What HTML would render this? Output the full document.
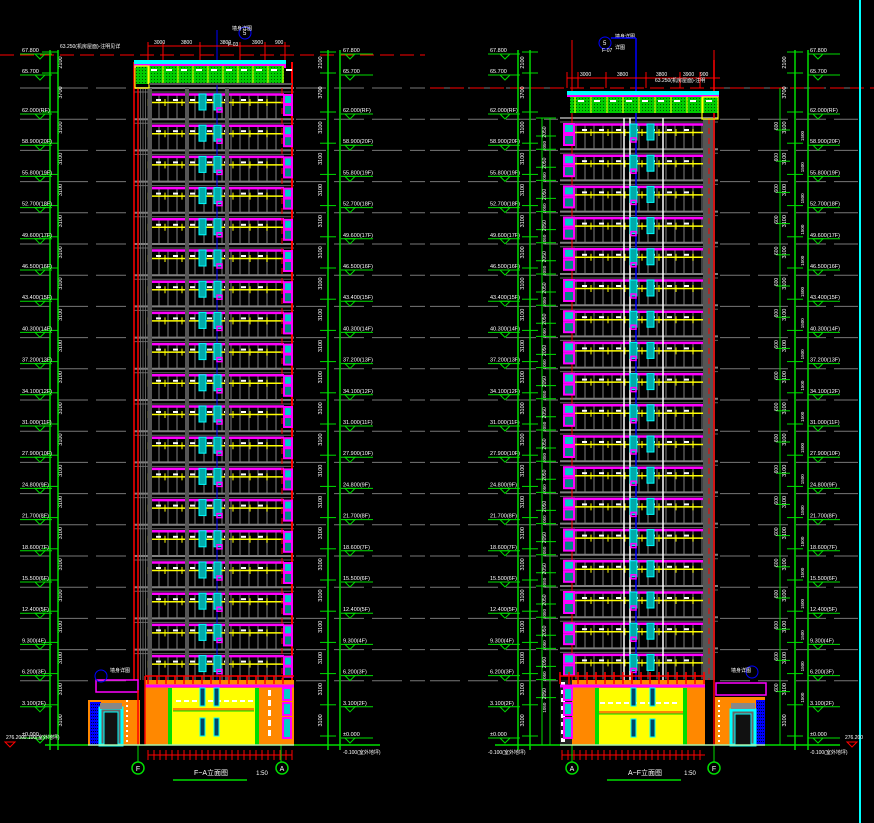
<!DOCTYPE html>
<html><head><meta charset="utf-8"><style>
html,body{margin:0;padding:0;background:#000;width:874px;height:823px;overflow:hidden}
svg{display:block}
text{font-family:"Liberation Sans","Noto Sans CJK SC",sans-serif}
</style></head><body>
<svg id="c" width="874" height="823" viewBox="0 0 874 823" xmlns="http://www.w3.org/2000/svg"></svg>
<script>
let s='';
const L=(x1,y1,x2,y2,c,w=1,d='')=>{s+=`<line x1="${x1}" y1="${y1}" x2="${x2}" y2="${y2}" stroke="${c}" stroke-width="${w}"${d?` stroke-dasharray="${d}"`:''}/>`};
const R=(x,y,w,h,f,st='',sw=1)=>{s+=`<rect x="${x}" y="${y}" width="${w}" height="${h}" fill="${f}"${st?` stroke="${st}" stroke-width="${sw}"`:''}/>`};
const T=(x,y,t,c='#fff',fs=6,rot=0,a='start')=>{s+=`<text x="${x}" y="${y}" fill="${c}" font-size="${fs}" text-anchor="${a}"${rot?` transform="rotate(${rot} ${x} ${y})"`:''}>${t}</text>`};
const C=(x,y,r,c,w=1)=>{s+=`<circle cx="${x}" cy="${y}" r="${r}" fill="none" stroke="${c}" stroke-width="${w}"/>`};
const TRI=(x,y,c)=>{s+=`<polygon points="${x-5},${y} ${x+5},${y} ${x},${y+5}" fill="none" stroke="${c}" stroke-width="1"/>`};
const F=31.2;

// long grey floor lines
for(let k=0;k<=19;k++){let y=88+F*k;L(20,y,132,y,'#777',1,'30 8');L(296,y,425,y,'#777',1,'30 8');L(430,y,558,y,'#777',1,'30 8');L(720,y,858,y,'#777',1,'30 8');}
// red dashed datum lines
L(0,55,425,55,'#f00',1,'14 6');L(430,88,874,88,'#f00',1,'14 6');
// cyan border
L(860,0,860,823,'#0ff',2);

function facade(x0,x1,ytop,n,mir){
 R(x0,ytop,x1-x0,680-ytop,'#000');
 for(let k=0;k<n;k++){
  const y=ytop+F*k;
  L(x0,y,x1,y,'#808080',2);L(x0,y+4,x1,y+4,'#666',1);
  // mullions
  for(let x=x0+16;x<x1-12;x+=9)L(x,y+6,x,y+31,'#555',1.5);
  // magenta
  L(x0+14,y+6.5,x1-10,y+6.5,'#f0f',2.5);
  // yellow
  L(x0+14,y+14.5,x1-10,y+14.5,'#ff0',1.5);
  for(let x=x0+14;x<x1-10;x+=17)L(x,y+11,x,y+18,'#ff0',1);
  for(let x=x0+22;x<x1-20;x+=17)R(x,y+11,5,2,'#fff');
 }
}
// LEFT BUILDING
facade(134,294,88,19,0);
for(let x=138;x<150;x+=2.5)L(x,88,x,680,'#777',0.8);
[150,187,227].forEach(x=>L(x,88,x,680,'#555',4));
L(138,88,138,680,'#f00',1.5);L(292,62,292,745,'#f00',2);L(282,88,282,680,'#f00',1,'6 4');L(134,62,134,680,'#f00',1.5);
L(217,30,217,680,'#00f',1);
for(let k=0;k<19;k++){const y=88+F*k;
 R(199,y+6,7,16,'#0aa','#0ff',1);R(214,y+6,7,16,'#0aa','#0ff',1);R(217,y+20,5,4,'none','#f0f',1.5);
 R(284,y+7,8,9,'#0cc','#f0f',2);R(284,y+17,8,10,'#088','#f0f',2);}
// roof left
R(134,60,152,4,'#0ff');R(134,64,152,4,'#f0f');
R(136,66,148,18,'#0c0');for(let x=136;x<284;x+=3)for(let y=67;y<84;y+=3)R(x,y,1,1,'#050');
for(let x=148;x<284;x+=15){L(x,66,x,84,'#ff0',1);R(x+3,69,6,2,'#fff');}
R(135,66,14,22,'none','#ff0',1.2);L(149,84,292,84,'#555',2);
// top dims left
L(148,46,290,46,'#f00',1);[148,163,200,240,265,285].forEach(x=>{L(x,42,x,60,'#f00',1);});
[['3000',154],['3800',181],['3800',220],['3900',252],['900',275]].forEach(a=>T(a[1],44,a[0],'#fff',5));
C(245,33,6,'#00f');T(243,35,'5','#fff',6);T(232,30,'墙身详图','#fff',5);T(228,46,'F-03','#fff',5);
T(60,48,'63.250(机房屋面)-注明见详','#fff',5);
// podium left
R(145,680,149,65,'#f80');R(145,680,149,6,'#f80');L(145,686,294,686,'#f0f',3);
for(let x=148;x<290;x+=9)L(x,676,x,684,'#f00',1.5);L(145,676,294,676,'#f00',1.5);
R(168,688,4,57,'#0d0');R(255,688,4,57,'#0d0');R(172,688,83,57,'#ff0');
R(173,708,81,3,'#f80');L(173,711,254,711,'#0d0',1);
for(let x=176;x<252;x+=8)R(x,700,5,2,'#fff');
[[200,688],[214,688],[200,718],[214,718]].forEach(p=>R(p[0],p[1],5,18,'#046','#0ff',1));
for(let y=690;y<740;y+=10)R(268,y,3,6,'#fff');
R(283,688,8,12,'#0cc','#f0f',2);R(283,703,8,12,'#0cc','#f0f',2);R(283,718,8,20,'#0cc','#f0f',2);
L(145,676,145,745,'#f00',1.5);
// left annex
R(96,680,42,12,'none','#f0f',1.5);R(88,700,52,45,'#f80');R(90,702,11,43,'#00f');
for(let x=91;x<100;x+=2)for(let y=704;y<744;y+=3)R(x,y,1,1,'#003');
R(100,708,22,37,'#666','#0ff',3);R(104,712,14,33,'#111','#0ff',1);R(100,703,22,6,'#888');
for(let y=700;y<745;y+=5)R(126,y,2,2,'#fff');L(138,690,138,745,'#f00',1.5);C(101,676,6,'#00f');T(110,672,'墙身详图','#fff',5);
// base dims left
L(148,755,292,755,'#f00',1);for(let x=148;x<=292;x+=6)L(x,750,x,760,'#f00',1);
L(138,745,138,762,'#0d0',1);L(281,745,281,762,'#0d0',1);
C(138,768,6,'#0d0',1.5);T(138,771,'F','#fff',7,0,'middle');C(282,768,6,'#0d0',1.5);T(282,771,'A','#fff',7,0,'middle');
T(211,775,'F~A立面图','#fff',7,0,'middle');L(173,780,247,780,'#0d0',1.5);T(262,775,'1:50','#fff',6,0,'middle');

// RIGHT BUILDING
facade(560,718,118,18,1);
R(703,118,12,562,'#555');
[['#fff',624],['#fff',630],['#fff',663]].forEach(a=>L(a[1],118,a[1],680,a[0],1.5));
L(636,38,636,680,'#00f',1.5);
L(572,60,572,680,'#f00',1);L(714,60,714,745,'#f00',1.5);L(709,118,709,680,'#f00',1,'6 4');
for(let k=0;k<18;k++){const y=118+F*k;
 R(564,y+6,10,9,'#0cc','#f0f',2);R(564,y+17,10,10,'#088','#f0f',2);
 R(630,y+6,7,16,'#0aa','#0ff',1);R(647,y+6,7,16,'#0aa','#0ff',1);R(631,y+20,5,4,'none','#f0f',1.5);}
R(567,91,152,5,'#0ff');R(567,95,152,2,'#f0f');
R(570,97,148,16,'#0c0');for(let x=570;x<718;x+=3)for(let y=98;y<113;y+=3)R(x,y,1,1,'#050');
for(let x=575;x<718;x+=16){L(x,97,x,113,'#ff0',1);R(x+3,100,6,2,'#fff');}
R(702,97,16,22,'none','#ff0',1.2);
L(567,78,720,78,'#f00',1);[567,578,606,646,680,700,714].forEach(x=>L(x,72,x,88,'#f00',1));
[['3000',580],['3800',617],['3800',656],['3900',683],['900',700]].forEach(a=>T(a[1],76,a[0],'#fff',5));
T(655,82,'63.250(机房屋面)-注明','#fff',5);
C(605,43,6,'#00f');T(603,45,'5','#fff',6);T(615,38,'墙身详图','#fff',5);T(602,52,'F-07','#fff',5);T(615,49,'详图','#fff',5);L(611,38,636,38,'#00f',1.5);
L(572,40,572,70,'#f00',1);L(714,50,714,70,'#f00',1);
// podium right
R(560,680,12,65,'#222');for(let y=682;y<742;y+=8)R(561,y,4,4,'#fff');
R(572,680,133,65,'#f80');L(560,686,705,686,'#f0f',3);L(560,676,705,676,'#f00',1.5);for(let x=560;x<705;x+=9)L(x,672,x,684,'#f00',1.5);
R(595,688,4,57,'#0d0');R(683,688,4,57,'#0d0');R(599,688,84,57,'#ff0');
R(599,711,84,3,'#f80');L(599,714,683,714,'#0d0',1);for(let x=600;x<680;x+=8)R(x,702,5,2,'#fff');
[[631,688],[650,688],[631,719],[650,719]].forEach(p=>R(p[0],p[1],5,18,'#046','#0ff',1));
R(564,688,8,12,'#0cc','#f0f',2);R(564,703,8,12,'#0cc','#f0f',2);R(564,718,8,20,'#0cc','#f0f',2);
// right annex
R(716,683,50,12,'none','#f0f',1.5);R(715,697,50,48,'#f80');R(756,700,9,45,'#00f');
for(let x=757;x<765;x+=2)for(let y=702;y<744;y+=3)R(x,y,1,1,'#003');
R(731,710,24,35,'#666','#0ff',3);R(735,714,16,31,'#111','#0ff',1);R(731,703,24,6,'#888');
for(let y=700;y<745;y+=5)R(718,y,2,2,'#fff');C(752,672,6,'#00f');T(731,672,'墙身详图','#fff',5);
// base dims right
L(562,755,705,755,'#f00',1);for(let x=562;x<=705;x+=6)L(x,750,x,760,'#f00',1);
L(572,745,572,762,'#0d0',1);L(714,745,714,762,'#0d0',1);
C(572,768,6,'#0d0',1.5);T(572,771,'A','#fff',7,0,'middle');C(714,768,6,'#0d0',1.5);T(714,771,'F','#fff',7,0,'middle');
T(645,775,'A~F立面图','#fff',7,0,'middle');L(607,780,681,780,'#0d0',1.5);T(690,775,'1:50','#fff',6,0,'middle');

// ground lines
L(45,745,380,745,'#0d0',1.5);L(495,745,840,745,'#0d0',1.5);L(88,745,294,745,'#fff',1);L(560,745,765,745,'#fff',1);

// level chains
const fl=['±0.000','3.100(2F)','6.200(3F)','9.300(4F)','12.400(5F)','15.500(6F)','18.600(7F)','21.700(8F)','24.800(9F)','27.900(10F)','31.000(11F)','34.100(12F)','37.200(13F)','40.300(14F)','43.400(15F)','46.500(16F)','49.600(17F)','52.700(18F)','55.800(19F)','58.900(20F)','62.000(RF)'];
const lv=[];for(let i=0;i<=20;i++)lv.push([736-F*i,fl[i]]);lv.push([73,'65.700'],[52,'67.800']);
function chain(xv,xt,tx,triX,dimX,ext){
 L(xv,50,xv,750,'#0d0',1.5);
 lv.forEach((l,i)=>{const y=l[0];L(xv-8,y,xv+8,y,'#0d0',1);L(tx-2,y+2,tx+30,y+2,'#0d0',1);T(tx,y,l[1],'#fff',5.5);TRI(triX,y+2,'#0d0');
  if(i<lv.length-1){const y2=lv[i+1][0];T(dimX,(y+y2)/2,i<20?'3100':(i==20?'3700':'2100'),'#fff',5.5,-90,'middle');}});
 if(ext)L(ext,50,ext,750,'#0d0',1.5);
}
chain(50,0,22,40,62,58);
chain(328,0,343,350,322,340);
chain(530,0,490,505,524,518);
chain(795,0,810,818,786,808);
T(22,739,'-0.100(室外地坪)','#fff',5);T(343,754,'-0.100(室外地坪)','#fff',5);T(488,754,'-0.100(室外地坪)','#fff',5);T(810,754,'-0.100(室外地坪)','#fff',5);
T(6,739,'276.200','#fff',5);TRI(10,742,'#f00');T(845,739,'276.200','#fff',5);TRI(852,742,'#f00');
// extra dims right building left
L(542,118,542,745,'#0d0',1);L(550,118,550,745,'#0d0',1);
for(let k=0;k<19;k++){const y=118+F*k;L(536,y,556,y,'#0d0',1);L(536,y+18,556,y+18,'#0d0',1);T(546,y+14,'2050','#fff',5,-90,'middle');T(546,y+28,'1050','#fff',4.5,-90,'middle');}
for(let k=0;k<19;k++){const y=118+F*k;L(776,y+12,790,y+12,'#0d0',1);T(778,y+8,'600','#fff',5,-90,'middle');T(804,y+18,'1500','#fff',4.5,-90,'middle');}
L(780,88,780,745,'#0d0',1);
document.getElementById('c').innerHTML=s;
</script>
</body></html>
